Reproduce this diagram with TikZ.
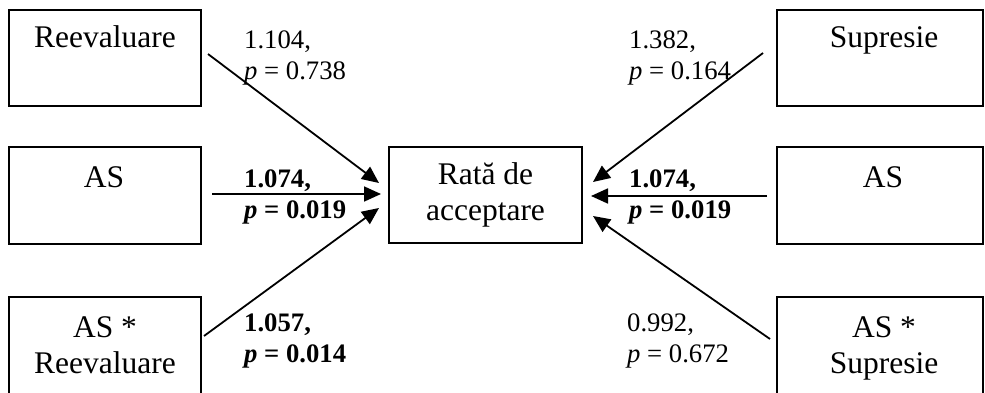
\documentclass[tikz,border=0pt]{standalone}
\usepackage{fontspec}
\setmainfont{Liberation Serif}
\usetikzlibrary{arrows.meta}
\tikzset{
  box/.style={draw, line width=1.8pt, inner sep=0pt},
  boxtext/.style={anchor=base, align=center, inner sep=0pt, font=\fontsize{31.5}{36}\selectfont},
  coef/.style={anchor=base west, align=left, inner sep=0pt, font=\fontsize{26.7}{31}\selectfont},
  conn/.style={line width=1.8pt, -{Triangle[length=17pt,width=15pt]}}
}
\begin{document}
\begin{tikzpicture}[x=1pt,y=-1pt]
\useasboundingbox (0,0) rectangle (985,393);
\clip (0,0) rectangle (985,393);
% boxes
\node[box, minimum width=192pt, minimum height=96pt] (reev) at (105,58) {};
\node[box, minimum width=192pt, minimum height=97pt] (asl) at (105,195.5) {};
\node[box, minimum width=192pt, minimum height=110pt] (asreev) at (105,352) {};
\node[box, minimum width=193pt, minimum height=96pt] (rata) at (485.5,195) {};
\node[box, minimum width=206pt, minimum height=96pt] (sup) at (880,58) {};
\node[box, minimum width=206pt, minimum height=97pt] (asr) at (880,195.5) {};
\node[box, minimum width=206pt, minimum height=110pt] (assup) at (880,352) {};
% box texts (base = baseline of last line)
\node[boxtext] (treev) at (105,48) {Reevaluare};
\node[boxtext] (tasl) at (104,187) {AS};
\node[boxtext] (tasreev) at (105,373) {AS *\\Reevaluare};
\node[boxtext] (trata) at (485.5,220) {Rată de\\acceptare};
\node[boxtext] (tsup) at (884,48) {Supresie};
\node[boxtext] (tasr) at (883,187) {AS};
\node[boxtext] (tassup) at (884,373) {AS *\\Supresie};
% connector endpoints
\coordinate (l1s) at (208,54);  \coordinate (l1e) at (379,183);
\coordinate (l2s) at (212,194); \coordinate (l2e) at (381,194);
\coordinate (l3s) at (204,336); \coordinate (l3e) at (379,208);
\coordinate (r1s) at (763,53);  \coordinate (r1e) at (593,182);
\coordinate (r2s) at (767,196); \coordinate (r2e) at (591,196);
\coordinate (r3s) at (770,339); \coordinate (r3e) at (593,216);
\draw[conn] (l1s) -- (l1e);
\draw[conn] (l2s) -- (l2e);
\draw[conn] (l3s) -- (l3e);
\draw[conn] (r1s) -- (r1e);
\draw[conn] (r2s) -- (r2e);
\draw[conn] (r3s) -- (r3e);
% coefficients (base = baseline of last line)
\node[coef] (c1) at (244,80) {1.104,\\\textit{p} = 0.738};
\node[coef] (c2) at (244,218) {\textbf{1.074,}\\\textbf{\textit{p} = 0.019}};
\node[coef] (c3) at (244,362) {\textbf{1.057,}\\\textbf{\textit{p} = 0.014}};
\node[coef] (c4) at (629,80) {1.382,\\\textit{p} = 0.164};
\node[coef] (c5) at (629,218) {\textbf{1.074,}\\\textbf{\textit{p} = 0.019}};
\node[coef] (c6) at (627,362) {0.992,\\\textit{p} = 0.672};
\end{tikzpicture}
\end{document}
